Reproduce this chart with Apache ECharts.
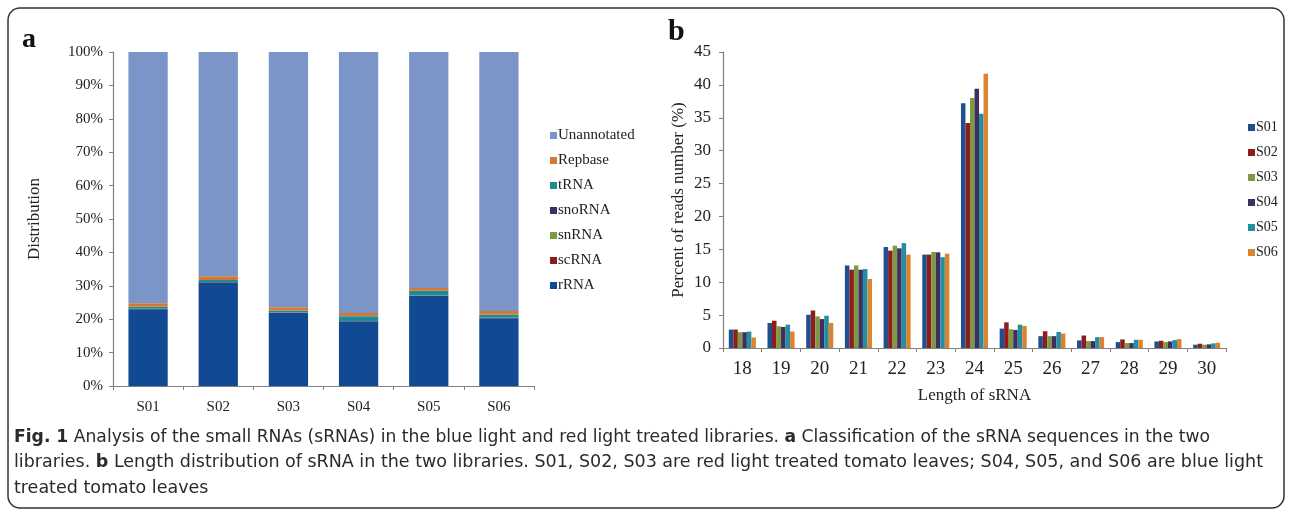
<!DOCTYPE html>
<html>
<head>
<meta charset="utf-8">
<script src="https://cdn.jsdelivr.net/npm/echarts@6/dist/echarts.min.js"></script>
<style>
html,body{margin:0;padding:0;background:#fff;}
#c{width:1290px;height:515px;}
</style>
</head>
<body>
<div id="c"></div>
<script>
// ---------- Panel a data ----------
const samplesA = ['S01','S02','S03','S04','S05','S06'];
const rRNA        = [23.0, 31.0, 21.9, 19.3, 27.0, 20.3];
const scRNA       = [0.05, 0.05, 0.05, 0.05, 0.05, 0.05];
const snRNA       = [0.05, 0.05, 0.05, 0.05, 0.05, 0.05];
const snoRNA      = [0.05, 0.05, 0.05, 0.05, 0.05, 0.05];
const tRNA        = [0.6, 0.6, 0.5, 1.4, 1.4, 0.9];
const Repbase     = [1.0, 1.1, 1.0, 1.0, 0.8, 1.1];
const Unannotated = [75.25, 67.15, 76.45, 78.15, 70.65, 77.55];
const yTicksA = ['0%','10%','20%','30%','40%','50%','60%','70%','80%','90%','100%'];

// ---------- Panel b data ----------
const lengths = ['18','19','20','21','22','23','24','25','26','27','28','29','30'];
const S01 = [2.8, 3.8, 5.05, 12.55, 15.35, 14.2, 37.2, 2.95, 1.8, 1.15, 0.9, 1.0, 0.5];
const S02 = [2.8, 4.15, 5.7, 11.9, 14.8, 14.2, 34.2, 3.9, 2.55, 1.9, 1.3, 1.1, 0.65];
const S03 = [2.4, 3.3, 4.8, 12.55, 15.55, 14.6, 38.0, 2.85, 1.8, 1.05, 0.75, 0.9, 0.5];
const S04 = [2.4, 3.2, 4.4, 11.9, 15.15, 14.55, 39.4, 2.75, 1.8, 1.05, 0.75, 1.0, 0.55];
const S05 = [2.5, 3.55, 4.9, 12.0, 15.95, 13.8, 35.6, 3.55, 2.45, 1.65, 1.25, 1.2, 0.7];
const S06 = [1.6, 2.5, 3.8, 10.5, 14.2, 14.35, 41.7, 3.35, 2.2, 1.65, 1.25, 1.35, 0.8];

// ---------- caption ----------
const capLines = [
  '{b|Fig. 1} Analysis of the small RNAs (sRNAs) in the blue light and red light treated libraries. {b|a} Classification of the sRNA sequences in the two',
  'libraries. {b|b} Length distribution of sRNA in the two libraries. S01, S02, S03 are red light treated tomato leaves; S04, S05, and S06 are blue light',
  'treated tomato leaves'
];

const serif = "'Liberation Serif','Times New Roman',serif";
const capFont = "'Liberation Sans Narrow','DejaVu Sans Condensed','Liberation Sans',sans-serif";
const capSize = 18;

// measure caption lines (bold segments measured in bold) to fit target widths
const cv = document.createElement('canvas').getContext('2d');
function lineWidth(s){
  let w = 0;
  s.split(/(\{b\|[^}]*\})/).forEach(part => {
    if (!part) return;
    const m = part.match(/^\{b\|([^}]*)\}$/);
    cv.font = (m ? 'bold ' : '') + capSize + 'px ' + capFont;
    w += cv.measureText(m ? m[1] : part).width;
  });
  return w;
}
const capScale1 = 1196 / lineWidth(capLines[0]);
const capScale2 = 1249 / lineWidth(capLines[1]);
const capScales = [capScale1, capScale2, capScale2];

const colA = {
  Unannotated:'#7b95c8', Repbase:'#d27a33', tRNA:'#1d8a9c', snoRNA:'#3f2f61',
  snRNA:'#7e9b41', scRNA:'#8c1c1e', rRNA:'#114a92'
};
const colB = ['#1f4f8f','#8c1c1e','#7e9b41','#3f2f61','#238ea3','#d98431'];

const seriesA = [
  ['rRNA', rRNA], ['scRNA', scRNA], ['snRNA', snRNA], ['snoRNA', snoRNA],
  ['tRNA', tRNA], ['Repbase', Repbase], ['Unannotated', Unannotated]
].map(([n, d]) => ({
  name: n, type: 'bar', stack: 'a', xAxisIndex: 0, yAxisIndex: 0,
  data: d, barCategoryGap: '44%', itemStyle: {color: colA[n]}
}));

const seriesB = [['S01',S01],['S02',S02],['S03',S03],['S04',S04],['S05',S05],['S06',S06]].map(([n,d],i) => ({
  name: n, type: 'bar', xAxisIndex: 1, yAxisIndex: 1, data: d,
  barGap: '0%', barCategoryGap: '30%', itemStyle: {color: colB[i]}
}));

const axisLine = {lineStyle: {color: '#7f7f7f', width: 1.2}};
const labelTxt = {fontFamily: serif, color: '#222'};

const capGraphics = capLines.map((t, i) => ({
  type: 'text', left: 14, top: 428 + i * 25.5, scaleX: capScales[i], originX: 0,
  style: {
    text: t, font: capSize + 'px ' + capFont, fill: '#2a2a2a',
    rich: {b: {fontWeight: 'bold', fontFamily: capFont, fontSize: capSize, fill: '#2a2a2a'}}
  }
}));

const chart = echarts.init(document.getElementById('c'), null, {renderer: 'canvas'});
chart.setOption({
  backgroundColor: '#fff',
  animation: false,
  grid: [
    {left: 113, top: 52, width: 421, height: 334},
    {left: 723, top: 52, width: 503, height: 296}
  ],
  xAxis: [
    {type: 'category', gridIndex: 0, data: samplesA,
     axisLine: axisLine, axisTick: {show: true, length: 4, lineStyle: {color: '#7f7f7f'}},
     axisLabel: Object.assign({fontSize: 15, margin: 14}, labelTxt)},
    {type: 'category', gridIndex: 1, data: lengths,
     axisLine: axisLine, axisTick: {show: true, length: 4, lineStyle: {color: '#7f7f7f'}},
     axisLabel: Object.assign({fontSize: 19, margin: 12}, labelTxt),
     name: 'Length of sRNA', nameLocation: 'middle', nameGap: 39,
     nameTextStyle: Object.assign({fontSize: 17}, labelTxt)}
  ],
  yAxis: [
    {type: 'value', gridIndex: 0, min: 0, max: 100, interval: 10,
     axisLine: Object.assign({show: true}, axisLine),
     axisTick: {show: true, length: 4, lineStyle: {color: '#7f7f7f'}},
     splitLine: {show: false},
     axisLabel: Object.assign({fontSize: 15, margin: 10,
       formatter: v => yTicksA[Math.round(v / 10)]}, labelTxt),
     name: 'Distribution', nameLocation: 'middle', nameGap: 70,
     nameTextStyle: Object.assign({fontSize: 17}, labelTxt)},
    {type: 'value', gridIndex: 1, min: 0, max: 45, interval: 5,
     axisLine: Object.assign({show: true}, axisLine),
     axisTick: {show: true, length: 4, lineStyle: {color: '#7f7f7f'}},
     splitLine: {show: false},
     axisLabel: Object.assign({fontSize: 17, margin: 12}, labelTxt),
     name: 'Percent of reads number (%)', nameLocation: 'middle', nameGap: 36,
     nameTextStyle: Object.assign({fontSize: 17}, labelTxt)}
  ],
  legend: [
    {orient: 'vertical', left: 545, top: 123, itemGap: 10, itemWidth: 7, itemHeight: 7,
     icon: 'rect', data: ['Unannotated','Repbase','tRNA','snoRNA','snRNA','scRNA','rRNA'],
     textStyle: {fontFamily: serif, fontSize: 15, color: '#222', lineHeight: 15, padding: [0,0,0,-4]}},
    {orient: 'vertical', left: 1243, top: 115, itemGap: 10, itemWidth: 7, itemHeight: 7,
     icon: 'rect', data: ['S01','S02','S03','S04','S05','S06'],
     textStyle: {fontFamily: serif, fontSize: 14, color: '#222', lineHeight: 15, padding: [0,0,0,-4]}}
  ],
  graphic: [
    {type: 'rect', shape: {x: 8, y: 8, width: 1276, height: 500, r: 12},
     style: {fill: 'none', stroke: '#333', lineWidth: 1.5}, silent: true},
    {type: 'text', left: 22, top: 26,
     style: {text: 'a', font: 'bold 28px ' + serif, fill: '#111'}},
    {type: 'text', left: 668, top: 17,
     style: {text: 'b', font: 'bold 30px ' + serif, fill: '#111'}}
  ].concat(capGraphics),
  series: seriesA.concat(seriesB)
});
</script>
</body>
</html>
